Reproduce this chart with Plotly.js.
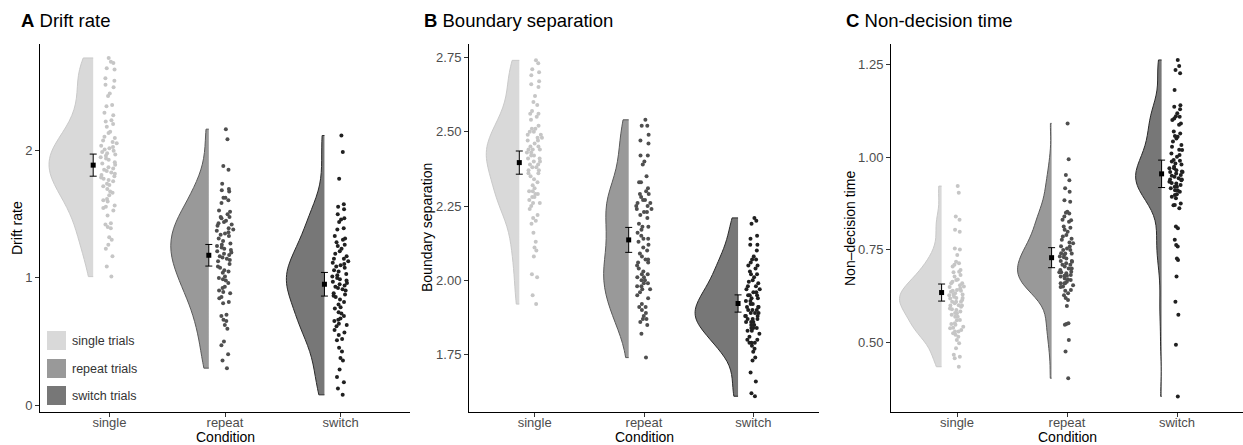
<!DOCTYPE html>
<html>
<head>
<meta charset="utf-8">
<script src="https://cdn.plot.ly/plotly-3.0.1.min.js"></script>
<style>
  html, body { margin: 0; padding: 0; background: #ffffff; }
  #chart { width: 1243px; height: 445px; }
</style>
</head>
<body>
<div id="chart"></div>
<script>
// Condition categories and legend labels
const conditions = ['single', 'repeat', 'switch'];
const legendLabels = ['single trials', 'repeat trials', 'switch trials'];

// Drift rate per participant
const driftSingle = [2.73, 2.70, 2.69, 2.65, 2.64, 2.57, 2.55, 2.52, 2.50, 2.45, 2.43, 2.36, 2.35, 2.30, 2.28, 2.24, 2.23, 2.21, 2.19, 2.15,
  2.14, 2.11, 2.10, 2.08, 2.07, 2.06, 2.04, 2.03, 2.02, 2.01, 2.00, 1.99, 1.98, 1.97, 1.96, 1.95, 1.94, 1.93, 1.91, 1.90,
  1.89, 1.87, 1.86, 1.85, 1.84, 1.83, 1.82, 1.81, 1.80, 1.79, 1.78, 1.77, 1.76, 1.74, 1.73, 1.72, 1.70, 1.68, 1.67, 1.65,
  1.62, 1.61, 1.60, 1.57, 1.56, 1.55, 1.53, 1.49, 1.43, 1.42, 1.40, 1.39, 1.32, 1.30, 1.26, 1.23, 1.17, 1.09, 1.01];
const driftRepeat = [2.17, 2.09, 1.88, 1.85, 1.74, 1.70, 1.69, 1.68, 1.63, 1.63, 1.61, 1.59, 1.53, 1.50, 1.48, 1.48, 1.47, 1.44, 1.42, 1.41,
  1.39, 1.38, 1.37, 1.36, 1.34, 1.29, 1.25, 1.24, 1.23, 1.22, 1.21, 1.18, 1.17, 1.16, 1.14, 1.11, 1.09, 1.08, 1.06, 1.05,
  1.04, 1.01, 1.00, 0.99, 0.98, 0.96, 0.93, 0.92, 0.90, 0.89, 0.88, 0.85, 0.84, 0.81, 0.80, 0.71, 0.70, 0.67, 0.66, 0.63,
  0.60, 0.50, 0.47, 0.40, 0.35, 0.29, 1.52, 1.45, 1.35, 1.31, 1.27, 1.19, 1.13, 1.43, 1.26, 1.20, 1.15, 1.33];
const driftSwitch = [2.12, 1.99, 1.78, 1.58, 1.56, 1.54, 1.50, 1.47, 1.46, 1.44, 1.39, 1.38, 1.33, 1.31, 1.30, 1.28, 1.26, 1.25, 1.21, 1.19,
  1.17, 1.15, 1.15, 1.13, 1.12, 1.10, 1.09, 1.08, 1.05, 1.02, 1.01, 1.00, 0.98, 0.97, 0.96, 0.94, 0.93, 0.92, 0.91, 0.88,
  0.87, 0.85, 0.83, 0.81, 0.79, 0.77, 0.76, 0.73, 0.72, 0.70, 0.68, 0.67, 0.66, 0.64, 0.63, 0.62, 0.59, 0.57, 0.55, 0.52,
  0.51, 0.45, 0.42, 0.37, 0.35, 0.28, 0.22, 0.18, 0.13, 0.08, 1.06, 0.99, 0.95, 1.11, 1.23, 0.90, 0.86, 1.03];

// Boundary separation per participant
const boundarySingle = [2.74, 2.73, 2.71, 2.70, 2.69, 2.67, 2.66, 2.65, 2.62, 2.60, 2.59, 2.57, 2.56, 2.56, 2.54, 2.51, 2.51, 2.50, 2.49, 2.49,
  2.48, 2.47, 2.47, 2.46, 2.45, 2.44, 2.44, 2.43, 2.43, 2.42, 2.42, 2.41, 2.40, 2.39, 2.39, 2.38, 2.37, 2.37, 2.36, 2.35,
  2.33, 2.32, 2.31, 2.30, 2.29, 2.29, 2.28, 2.27, 2.26, 2.25, 2.24, 2.21, 2.20, 2.19, 2.16, 2.13, 2.11, 2.10, 2.08, 2.02,
  2.01, 1.95, 1.92, 2.52, 2.48, 2.45, 2.41, 2.38, 2.34, 2.30, 2.26, 2.22, 2.50, 2.44, 2.40, 2.36, 2.28, 2.55];
const boundaryRepeat = [2.54, 2.52, 2.52, 2.49, 2.47, 2.46, 2.42, 2.42, 2.40, 2.39, 2.33, 2.33, 2.30, 2.29, 2.29, 2.28, 2.27, 2.26, 2.26, 2.25,
  2.24, 2.24, 2.23, 2.23, 2.21, 2.18, 2.18, 2.17, 2.16, 2.15, 2.14, 2.14, 2.10, 2.08, 2.07, 2.07, 2.06, 2.03, 2.02, 2.02,
  2.01, 2.00, 2.00, 1.99, 1.98, 1.98, 1.97, 1.97, 1.96, 1.92, 1.91, 1.91, 1.88, 1.87, 1.87, 1.86, 1.85, 1.82, 1.74, 2.13,
  2.12, 2.27, 2.25, 2.22, 2.05, 2.04, 1.99, 1.95, 1.90, 2.31, 2.09, 2.06, 2.01, 1.94, 2.19, 1.89, 2.11, 2.35];
const boundarySwitch = [2.21, 2.20, 2.19, 2.15, 2.14, 2.12, 2.12, 2.08, 2.07, 2.07, 2.05, 2.05, 2.04, 2.03, 2.02, 2.02, 2.00, 1.995, 1.98, 1.98,
  1.97, 1.96, 1.95, 1.95, 1.94, 1.93, 1.92, 1.91, 1.91, 1.90, 1.90, 1.89, 1.88, 1.88, 1.87, 1.87, 1.86, 1.86, 1.85, 1.84,
  1.84, 1.83, 1.82, 1.80, 1.80, 1.79, 1.79, 1.78, 1.77, 1.76, 1.74, 1.73, 1.69, 1.66, 1.62, 1.61, 1.99, 1.96, 1.93, 1.92,
  1.90, 1.89, 1.88, 1.87, 1.85, 1.83, 1.81, 1.95, 1.91, 1.86, 2.01, 2.10, 1.97, 1.84, 1.79, 2.06, 1.94, 1.89];

// Non-decision time per participant
const ndtSingle = [0.922, 0.904, 0.840, 0.831, 0.804, 0.799, 0.754, 0.751, 0.736, 0.718, 0.714, 0.705, 0.696, 0.691, 0.682, 0.678, 0.669, 0.664, 0.660, 0.655,
  0.651, 0.646, 0.642, 0.637, 0.633, 0.628, 0.624, 0.619, 0.615, 0.610, 0.606, 0.601, 0.597, 0.592, 0.588, 0.584, 0.579, 0.575, 0.570, 0.561,
  0.552, 0.548, 0.543, 0.539, 0.534, 0.530, 0.525, 0.521, 0.516, 0.507, 0.498, 0.485, 0.467, 0.462, 0.458, 0.435, 0.66, 0.64, 0.63, 0.62,
  0.61, 0.60, 0.59, 0.57, 0.56, 0.55, 0.65, 0.63, 0.62, 0.60, 0.58, 0.54, 0.67, 0.71, 0.69, 0.53, 0.61, 0.64];
const ndtRepeat = [1.091, 0.994, 0.952, 0.938, 0.916, 0.907, 0.884, 0.880, 0.853, 0.848, 0.840, 0.831, 0.826, 0.813, 0.804, 0.799, 0.786, 0.777, 0.768, 0.759,
  0.754, 0.750, 0.741, 0.736, 0.732, 0.727, 0.718, 0.714, 0.705, 0.696, 0.691, 0.687, 0.682, 0.678, 0.673, 0.669, 0.664, 0.660, 0.655, 0.651,
  0.642, 0.633, 0.628, 0.615, 0.599, 0.552, 0.548, 0.507, 0.476, 0.404, 0.81, 0.79, 0.76, 0.74, 0.73, 0.72, 0.70, 0.69, 0.68, 0.67,
  0.66, 0.75, 0.71, 0.65, 0.64, 0.78, 0.83, 0.62, 0.55, 0.72, 0.70, 0.74, 0.68, 0.85, 0.66, 0.69, 0.71, 0.77];
const ndtSwitch = [1.262, 1.246, 1.235, 1.226, 1.181, 1.140, 1.136, 1.129, 1.118, 1.109, 1.104, 1.100, 1.091, 1.087, 1.069, 1.064, 1.057, 1.055, 1.042, 1.033,
  1.028, 1.019, 1.010, 1.006, 1.001, 0.992, 0.988, 0.983, 0.974, 0.970, 0.965, 0.961, 0.956, 0.952, 0.947, 0.943, 0.938, 0.934, 0.929, 0.925,
  0.920, 0.916, 0.911, 0.907, 0.898, 0.893, 0.889, 0.875, 0.871, 0.862, 0.813, 0.808, 0.777, 0.763, 0.759, 0.727, 0.723, 0.678, 0.610, 0.575,
  0.494, 0.355, 0.99, 0.97, 0.96, 0.95, 0.94, 0.93, 0.92, 0.91, 0.90, 0.96, 1.02, 1.11, 1.05, 0.87, 0.94, 0.98];

// Condition means and standard errors
const driftMeans = [1.887, 1.178, 0.950];
const driftSE = [0.087, 0.085, 0.093];
const boundaryMeans = [2.396, 2.136, 1.922];
const boundarySE = [0.039, 0.042, 0.029];
const ndtMeans = [0.635, 0.729, 0.955];
const ndtSE = [0.023, 0.027, 0.037];

// Tick values for each y axis
const driftTicks = [0, 1, 2];
const boundaryTicks = [1.75, 2.00, 2.25, 2.50, 2.75];
const ndtTicks = [0.50, 0.75, 1.00, 1.25];

// ---- styling ----
const W = 1243, H = 445;
const FONT = 'Liberation Sans, Arial, sans-serif';
const fills = ['#d9d9d9', '#999999', '#777777'];
const outlines = ['#c9c9c9', '#5a5a5a', '#2a2a2a'];
const dots = ['#c6c6c6', '#4f4f4f', '#202020'];
const NUDGE = 0.14;      // cloud sits left of the category centre
const JIT = 0.08;        // half-spread of the rain points

const px = x => x / W;
const py = y => 1 - y / H;

// Silverman's rule-of-thumb bandwidth (0.9 factor, as in R's bw.nrd0)
function nrd0(v) {
  const s = v.slice().sort((a, b) => a - b);
  const n = s.length;
  const mean = s.reduce((a, b) => a + b, 0) / n;
  const sd = Math.sqrt(s.reduce((a, b) => a + (b - mean) * (b - mean), 0) / (n - 1));
  const q = p => { const h = (n - 1) * p, lo = Math.floor(h); return s[lo] + (h - lo) * ((s[lo + 1] ?? s[lo]) - s[lo]); };
  const iqr = q(0.75) - q(0.25);
  return 0.9 * Math.min(sd, iqr / 1.34) * Math.pow(n, -0.2);
}

const panels = [
  { samples: [driftSingle, driftRepeat, driftSwitch], means: driftMeans, se: driftSE,
    ticks: driftTicks, fmt: '', range: [-0.055, 2.84], dom: [40, 410],
    half: [0.381, 0.329, 0.329], letter: 'A', title: 'Drift rate', ytitle: 'Drift rate', ytx: 17, titleX: 19 },
  { samples: [boundarySingle, boundaryRepeat, boundarySwitch], means: boundaryMeans, se: boundarySE,
    ticks: boundaryTicks, fmt: '.2f', range: [1.557, 2.795], dom: [469, 819],
    half: [0.302, 0.229, 0.393], letter: 'B', title: 'Boundary separation', ytitle: 'Boundary separation', ytx: 427, titleX: 422 },
  { samples: [ndtSingle, ndtRepeat, ndtSwitch], means: ndtMeans, se: ndtSE,
    ticks: ndtTicks, fmt: '.2f', range: [0.313, 1.305], dom: [891, 1243],
    half: [0.382, 0.309, 0.236], letter: 'C', title: 'Non-decision time', ytitle: 'Non\u2013decision time', ytx: 850, titleX: 844 }
];

const traces = [];
const layout = {
  width: W, height: H,
  margin: { l: 0, r: 0, t: 0, b: 0 },
  paper_bgcolor: '#ffffff', plot_bgcolor: '#ffffff',
  showlegend: false,
  font: { family: FONT, color: '#000' },
  shapes: [], annotations: []
};

const yTop = 44, yBot = 412;

panels.forEach((p, k) => {
  const n = k === 0 ? '' : String(k + 1);
  const xa = 'x' + n, ya = 'y' + n;

  p.samples.forEach((vals, i) => {
    const bd = p.half[i];
    traces.push({
      type: 'violin', xaxis: xa, yaxis: ya,
      x0: (i + 1) - NUDGE, y: vals,
      side: 'negative', spanmode: 'hard', scalemode: 'width',
      bandwidth: nrd0(vals),
      width: 2 * bd,
      fillcolor: fills[i],
      line: { color: outlines[i], width: 1 },
      points: 'all', pointpos: NUDGE / bd, jitter: JIT / bd,
      marker: { color: dots[i], size: 4, line: { width: 0 } },
      box: { visible: false }, meanline: { visible: false },
      hoverinfo: 'skip', name: conditions[i]
    });
  });

  traces.push({
    type: 'scatter', mode: 'markers', xaxis: xa, yaxis: ya,
    x: [1, 2, 3].map(v => v - NUDGE), y: p.means,
    error_y: { type: 'data', array: p.se, visible: true, color: '#000', thickness: 1, width: 3.5 },
    marker: { symbol: 'square', size: 5, color: '#000' },
    hoverinfo: 'skip'
  });

  layout['xaxis' + n] = {
    domain: [px(p.dom[0]), px(p.dom[1])], anchor: ya, type: 'linear',
    range: [0.4, 3.6], tickvals: [1, 2, 3], ticktext: conditions,
    showgrid: false, zeroline: false, showline: true, linecolor: '#000', linewidth: 1,
    ticks: 'outside', ticklen: 4, tickcolor: '#333', tickwidth: 1, ticklabelstandoff: -6,
    tickfont: { family: FONT, size: 13, color: '#4d4d4d' }, fixedrange: true
  };
  layout['yaxis' + n] = {
    domain: [py(yBot), py(yTop)], anchor: xa, type: 'linear',
    range: p.range, tickvals: p.ticks, tickformat: p.fmt,
    showgrid: false, zeroline: false, showline: true, linecolor: '#000', linewidth: 1,
    ticks: 'outside', ticklen: 4, tickcolor: '#333', tickwidth: 1,
    tickfont: { family: FONT, size: 13, color: '#4d4d4d' }, fixedrange: true
  };

  // panel heading
  layout.annotations.push({
    xref: 'paper', yref: 'paper', x: px(p.titleX), y: py(20), xanchor: 'left', yanchor: 'middle',
    text: '<b>' + p.letter + '</b> ' + p.title, showarrow: false,
    font: { family: FONT, size: 18.5, color: '#000' }
  });
  // y axis title
  layout.annotations.push({
    xref: 'paper', yref: 'paper', x: px(p.ytx), y: py((yTop + yBot) / 2), xanchor: 'center', yanchor: 'middle',
    text: p.ytitle, textangle: -90, showarrow: false,
    font: { family: FONT, size: 14, color: '#000' }
  });
  // x axis title
  layout.annotations.push({
    xref: 'paper', yref: 'paper', x: px((p.dom[0] + p.dom[1]) / 2), y: py(437), xanchor: 'center', yanchor: 'middle',
    text: 'Condition', showarrow: false,
    font: { family: FONT, size: 14, color: '#000' }
  });
});

// legend keys inside panel A
const keyTops = [331, 359, 386];
legendLabels.forEach((lab, i) => {
  layout.shapes.push({
    type: 'rect', xref: 'paper', yref: 'paper',
    x0: px(47), x1: px(66), y0: py(keyTops[i] + 19), y1: py(keyTops[i]),
    fillcolor: fills[i], line: { width: 0 }
  });
  layout.annotations.push({
    xref: 'paper', yref: 'paper', x: px(70), y: py(keyTops[i] + 9.5), xanchor: 'left', yanchor: 'middle',
    text: lab, showarrow: false, font: { family: FONT, size: 12.5, color: '#333' }
  });
});

Plotly.newPlot('chart', traces, layout, { staticPlot: true, displayModeBar: false });
</script>
</body>
</html>
